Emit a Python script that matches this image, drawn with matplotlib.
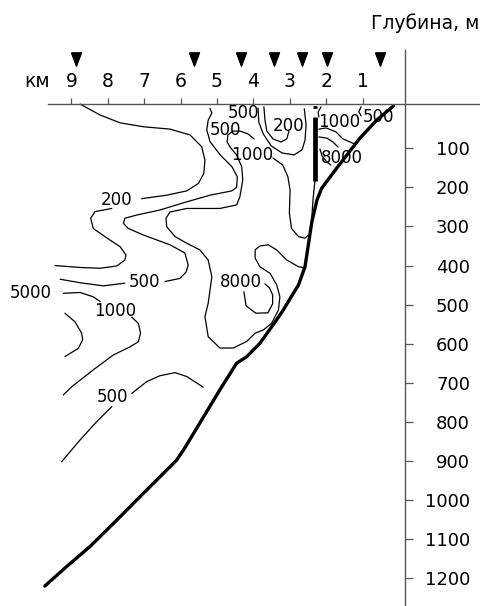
import matplotlib
matplotlib.use("Agg")
import matplotlib.pyplot as plt

plt.rcParams['font.family'] = ['DejaVu Sans']

# --- axes data -------------------------------------------------------------
km_ticks = [1, 2, 3, 4, 5, 6, 7, 8, 9]
depth_ticks = [100, 200, 300, 400, 500, 600, 700, 800, 900, 1000, 1100, 1200]
stations_km = [8.87, 5.63, 4.35, 3.43, 2.67, 1.98, 0.52]

# --- sea floor profile -----------------------------------------------------
bottom_km = [0.15, 0.61, 1.07, 1.71, 2.12, 2.25, 2.39, 2.58, 2.76, 2.90, 3.18,
             3.36, 3.82, 4.18, 4.46, 4.92, 5.47, 5.92, 6.11, 6.56, 7.11, 7.75,
             8.49, 9.13, 9.73]
bottom_m = [-8, 28, 74, 151, 202, 232, 287, 403, 450, 471, 514, 539, 599, 633,
            650, 718, 803, 872, 898, 940, 991, 1051, 1119, 1170, 1220]

# instrument string near station 2
mooring_km = [2.31, 2.31]
mooring_m = [19, 185]
mooring_tail_km = [2.31, 2.36, 2.40]
mooring_tail_m = [185, 232, 287]

# --- isolines ----------------------------------------------------------------
iso200_upper_km = [8.76, 8.21, 7.66, 7.02, 6.29, 5.74, 5.42, 5.33, 5.36, 5.51,
                   5.83, 6.38, 7.07]
iso200_upper_m = [-13, 15, 35, 45, 51, 66, 96, 130, 164, 190, 209, 220, 229]
iso200_lower_km = [7.89, 8.35, 8.47, 8.40, 8.08, 7.66, 7.50, 7.53, 7.75, 8.21,
                   8.76, 9.45]
iso200_lower_m = [254, 262, 279, 305, 326, 352, 373, 386, 401, 407, 405, 400]

iso500_long_km = [5.19, 5.14, 5.24, 5.28, 5.19, 4.91, 4.59, 4.44, 4.46, 4.59,
                  5.19, 5.83, 6.57, 7.21, 7.53, 7.57, 7.44, 7.02, 6.29, 5.88,
                  5.79, 5.85, 6.02, 6.43]
iso500_long_m = [-2, 10, 28, 53, 83, 117, 147, 173, 200, 209, 220, 237, 258,
                 271, 279, 292, 305, 322, 347, 368, 399, 417, 433, 441]
iso500_tail_km = [7.53, 8.12, 8.76, 9.31]
iso500_tail_m = [445, 452, 444, 435]

iso1000_right_km = [2.49, 2.58, 2.76, 2.95, 3.01, 2.99, 3.05, 3.19, 3.46]
iso1000_right_m = [322, 330, 326, 305, 266, 207, 173, 143, 125]
iso1000_loop_km = [3.98, 4.15, 4.37, 4.56, 4.70, 4.72, 4.64, 4.46, 4.32, 4.29,
                   4.37, 4.46, 4.92, 5.83, 6.29, 6.40, 6.38, 6.15, 5.83, 5.47,
                   5.24, 5.14, 5.24, 5.33, 5.24, 4.92, 4.55, 4.18, 3.95, 3.73,
                   3.50, 3.31, 3.27, 3.36, 3.54, 3.82, 3.95, 3.95, 3.82, 3.59,
                   3.36, 3.08, 2.76, 2.61]
iso1000_loop_m = [76, 63, 56, 56, 66, 84, 97, 117, 147, 181, 224, 245, 254,
                  254, 263, 279, 301, 326, 343, 360, 386, 429, 496, 531, 582,
                  611, 611, 594, 573, 565, 548, 514, 480, 449, 420, 403, 381,
                  360, 350, 347, 360, 386, 403, 406]

iso8000_mid_km = [4.26, 4.20, 3.93, 3.60, 3.47, 3.47, 3.56, 3.68]
iso8000_mid_m = [467, 503, 522, 521, 498, 475, 457, 447]

iso200_top_km = [3.71, 3.68, 3.63, 3.46, 3.24, 3.08, 3.02]
iso200_top_m = [-6, 28, 56, 76, 84, 76, 56]
iso500_top_km = [3.87, 3.85, 3.73, 3.51, 3.21, 2.88, 2.66, 2.58, 2.55, 2.60]
iso500_top_m = [-3, 33, 63, 94, 112, 117, 104, 79, 40, -1]

iso1000_shelf_km = [2.20, 2.00, 1.73, 1.54, 1.29, 1.21]
iso1000_shelf_m = [51, 48, 58, 76, 86, 89]
iso8000_shelf_a_km = [2.20, 1.98, 1.81, 1.67]
iso8000_shelf_a_m = [71, 74, 84, 97]
iso8000_shelf_b_km = [2.17, 2.11, 1.98, 1.87]
iso8000_shelf_b_m = [102, 120, 135, 143]
iso1000_stub_km = [2.14, 2.22, 2.20]
iso1000_stub_m = [-6, 7, 20]
iso500_stub_km = [1.04, 1.10, 1.04]
iso500_stub_m = [-6, 7, 17]

iso5000_km = [9.22, 8.76, 8.40, 8.21]
iso5000_m = [471, 469, 480, 492]
iso1000_west_km = [7.34, 7.16, 7.10, 7.16, 7.39, 7.85, 8.40, 8.99, 9.22]
iso1000_west_m = [532, 548, 573, 595, 608, 629, 667, 710, 731]
iso_arc_km = [9.18, 8.90, 8.72, 8.69, 8.81, 9.18]
iso_arc_m = [522, 544, 573, 590, 612, 633]

iso500_deep_a_km = [5.38, 5.83, 6.15, 6.57, 6.93, 7.34]
iso500_deep_a_m = [711, 684, 674, 682, 697, 727]
iso500_deep_b_km = [7.89, 8.30, 8.76, 9.27]
iso500_deep_b_m = [761, 799, 846, 902]

# isoline labels
label_text = ['200', '500', '500', '200', '1000', '500', '1000', '8000',
              '500', '8000', '5000', '1000', '500']
label_km = [7.75, 4.26, 4.76, 3.02, 1.65, 0.55, 4.03, 1.56,
            7.00, 4.34, 10.11, 7.80, 7.88]
label_m = [228, 5, 47, 37, 28, 16, 113, 120, 437, 437, 466, 511, 731]

# --- figure ----------------------------------------------------------------
fig = plt.figure(figsize=(4.8, 6.06), dpi=100)
ax = fig.add_axes([0, 0, 1, 1])
ax.set_xlim(10.962, -2.229)
ax.set_ylim(1271, -279.3)
ax.patch.set_alpha(0)

axis_color = '#555555'
for side in ('left', 'bottom'):
    ax.spines[side].set_visible(False)
ax.spines['top'].set_position(('data', -13.3))
ax.spines['top'].set_bounds(9.643, -2.229)
ax.spines['right'].set_position(('data', -0.168))
ax.spines['right'].set_bounds(-151, 1271)
for side in ('top', 'right'):
    ax.spines[side].set_color(axis_color)
    ax.spines[side].set_linewidth(1.0)

ax.xaxis.tick_top()
ax.set_xticks(km_ticks)
ax.set_xticklabels([str(k) for k in km_ticks])
ax.tick_params(axis='x', direction='out', length=4.2, width=0.9,
               color=axis_color, pad=5, labelsize=13.5)

ax.yaxis.tick_right()
ax.set_yticks(depth_ticks)
ax.set_yticklabels([str(d) for d in depth_ticks])
ax.tick_params(axis='y', direction='out', length=5.8, width=0.9,
               color=axis_color, pad=41, labelsize=13)
for tick in ax.yaxis.get_major_ticks():
    tick.label2.set_horizontalalignment('right')

# station markers
tri = [(-0.75, 1.0), (0.75, 1.0), (0.0, -1.0), (-0.75, 1.0)]
ax.plot(stations_km, [-128] * len(stations_km), linestyle='none',
        marker=tri, markersize=9.6, color='black', clip_on=False)

ax.text(9.93, -56, 'км', ha='center', va='baseline', fontsize=13.5)
ax.text(-2.2, -204, 'Глубина, м', ha='right', va='baseline', fontsize=13.5)

# isolines
thin = dict(color='black', lw=0.9, solid_capstyle='round',
            solid_joinstyle='round')
isolines = [
    (iso200_upper_km, iso200_upper_m), (iso200_lower_km, iso200_lower_m),
    (iso500_long_km, iso500_long_m), (iso500_tail_km, iso500_tail_m),
    (iso1000_right_km, iso1000_right_m), (iso1000_loop_km, iso1000_loop_m),
    (iso8000_mid_km, iso8000_mid_m), (iso200_top_km, iso200_top_m),
    (iso500_top_km, iso500_top_m), (iso1000_shelf_km, iso1000_shelf_m),
    (iso8000_shelf_a_km, iso8000_shelf_a_m),
    (iso8000_shelf_b_km, iso8000_shelf_b_m),
    (iso1000_stub_km, iso1000_stub_m), (iso500_stub_km, iso500_stub_m),
    (iso5000_km, iso5000_m), (iso1000_west_km, iso1000_west_m),
    (iso_arc_km, iso_arc_m), (iso500_deep_a_km, iso500_deep_a_m),
    (iso500_deep_b_km, iso500_deep_b_m),
]
for xs, ys in isolines:
    ax.plot(xs, ys, **thin)

for txt, x, y in zip(label_text, label_km, label_m):
    ax.text(x, y, txt, ha='center', va='center_baseline', fontsize=12)

# bottom profile and mooring
ax.plot(bottom_km, bottom_m, color='black', lw=2.4, solid_capstyle='round',
        solid_joinstyle='round')
ax.plot(mooring_km, mooring_m, color='black', lw=3.4, solid_capstyle='butt')
ax.plot(mooring_tail_km, mooring_tail_m, color='black', lw=0.9)
ax.plot([2.36, 2.25], [-6, -6], color='black', lw=2.0, solid_capstyle='butt')

fig.savefig('out.png', dpi=100, facecolor='white')
